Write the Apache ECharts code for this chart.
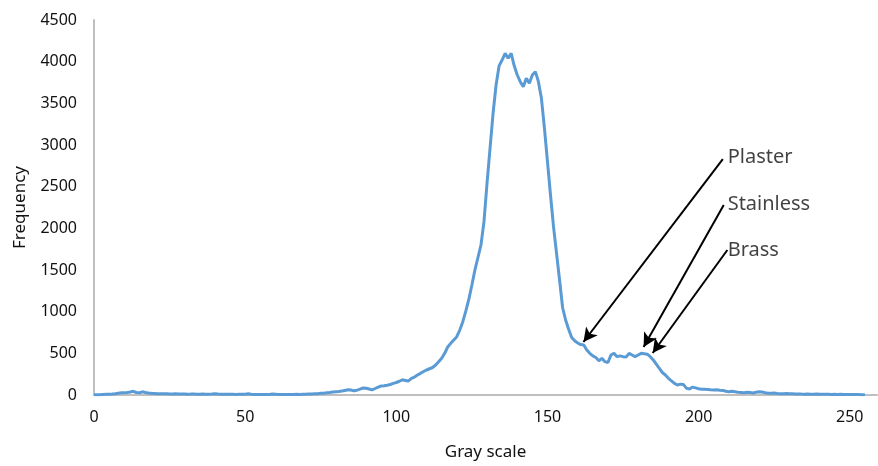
<!DOCTYPE html>
<html>
<head>
<meta charset="utf-8">
<title>Gray scale histogram</title>
<script src="https://cdn.jsdelivr.net/npm/echarts@6/dist/echarts.min.js"></script>
<style>
  html, body { margin: 0; padding: 0; background: #ffffff; }
  #chart { width: 878px; height: 466px; }
</style>
</head>
<body>
<div id="chart"></div>
<script>
// Pixel-count histogram over gray levels 0..255
const frequency = [
  2, 3, 4, 6, 8, 10, 12, 16, 22, 26,
  28, 30, 36, 44, 30, 26, 38, 30, 24, 20,
  18, 16, 15, 14, 16, 13, 12, 14, 12, 11,
  12, 10, 11, 13, 10, 9, 11, 10, 9, 12,
  16, 12, 9, 8, 10, 9, 8, 7, 9, 8,
  10, 14, 8, 7, 6, 7, 6, 5, 7, 12,
  9, 6, 5, 6, 7, 5, 6, 8, 7, 9,
  10, 12, 11, 14, 16, 20, 22, 26, 30, 36,
  40, 42, 48, 55, 62, 60, 50, 58, 70, 84,
  80, 72, 62, 78, 95, 108, 112, 118, 126, 140,
  150, 165, 182, 175, 168, 200, 215, 240, 260, 282,
  300, 315, 330, 360, 400, 440, 500, 576, 620, 660,
  700, 780, 880, 1010, 1150, 1320, 1500, 1650, 1800, 2080,
  2540, 2960, 3380, 3720, 3950, 4020, 4100, 4040, 4100, 3950,
  3840, 3760, 3700, 3800, 3740, 3840, 3880, 3760, 3560, 3200,
  2800, 2400, 2020, 1700, 1380, 1050, 900, 790, 690, 650,
  624, 605, 600, 540, 500, 470, 450, 410, 440, 400,
  390, 480, 500, 460, 470, 460, 455, 500, 480, 460,
  480, 500, 495, 490, 460, 420, 370, 320, 270, 240,
  200, 170, 140, 120, 130, 125, 80, 72, 95, 85,
  75, 70, 68, 65, 62, 60, 62, 58, 55, 45,
  40, 44, 38, 32, 30, 28, 34, 30, 25, 32,
  40, 36, 28, 22, 20, 24, 18, 16, 14, 18,
  15, 14, 12, 13, 11, 10, 12, 10, 9, 11,
  9, 8, 10, 9, 7, 8, 6, 8, 7, 6,
  6, 5, 6, 5, 4, 4
];

// Axis ticks
const xTicks = [0, 50, 100, 150, 200, 250];
const yTicks = [0, 500, 1000, 1500, 2000, 2500, 3000, 3500, 4000, 4500];

// Material callouts: label anchor, arrow tail and arrow tip (gray level, frequency)
const materialNames = ['Plaster', 'Stainless', 'Brass'];
const labelAnchors = [[209.6, 2856], [209.6, 2292], [209.6, 1740]];
const arrowTails = [[208.0, 2830], [208.3, 2280], [209.5, 1740]];
const arrowTips = [[161.9, 636], [181.8, 576], [184.8, 504]];

const points = frequency.map((v, i) => [i, v]);

const fontFamily = '"Noto Sans", "Open Sans", sans-serif';
const textColor = '#111111';

const chart = echarts.init(document.getElementById('chart'), null, { renderer: 'canvas' });

chart.setOption({
  animation: false,
  backgroundColor: '#ffffff',
  grid: { left: 94, right: 1, top: 20, bottom: 71, containLabel: false },
  xAxis: {
    type: 'value',
    min: xTicks[0],
    max: 259,
    interval: xTicks[1] - xTicks[0],
    name: 'Gray scale',
    nameLocation: 'middle',
    nameGap: 57,
    nameTextStyle: { fontFamily, fontSize: 17, color: textColor, verticalAlign: 'middle' },
    axisLine: { show: true, lineStyle: { color: '#bfbfbf', width: 2 } },
    axisTick: { show: false },
    splitLine: { show: false },
    axisLabel: {
      fontFamily, fontSize: 16, color: textColor, margin: 14,
      showMaxLabel: false,
      formatter: v => (xTicks.includes(v) ? String(v) : '')
    }
  },
  yAxis: {
    type: 'value',
    min: yTicks[0],
    max: yTicks[yTicks.length - 1],
    interval: yTicks[1] - yTicks[0],
    name: 'Frequency',
    nameLocation: 'middle',
    nameGap: 74,
    nameTextStyle: { fontFamily, fontSize: 17, color: textColor, verticalAlign: 'middle' },
    axisLine: { show: true, lineStyle: { color: '#bfbfbf', width: 2 } },
    axisTick: { show: false },
    splitLine: { show: false },
    axisLabel: {
      fontFamily, fontSize: 16, color: textColor, margin: 17,
      formatter: v => String(v)
    }
  },
  series: [
    {
      type: 'line',
      data: points,
      showSymbol: false,
      smooth: false,
      lineStyle: { color: '#5b9bd5', width: 3 },
      z: 2,
      markLine: {
        silent: true,
        symbol: ['none', 'arrow'],
        symbolSize: [11, 14],
        lineStyle: { color: '#000000', width: 2, type: 'solid' },
        label: { show: false },
        data: arrowTails.map((t, i) => [
          { coord: t },
          { coord: arrowTips[i] }
        ])
      }
    },
    {
      type: 'scatter',
      symbolSize: 0,
      silent: true,
      data: labelAnchors.map((p, i) => ({ value: p, name: materialNames[i] })),
      label: {
        show: true,
        position: 'right',
        distance: 0,
        formatter: p => p.name,
        fontFamily,
        fontSize: 20,
        color: textColor
      },
      z: 3
    }
  ]
});
</script>
</body>
</html>
